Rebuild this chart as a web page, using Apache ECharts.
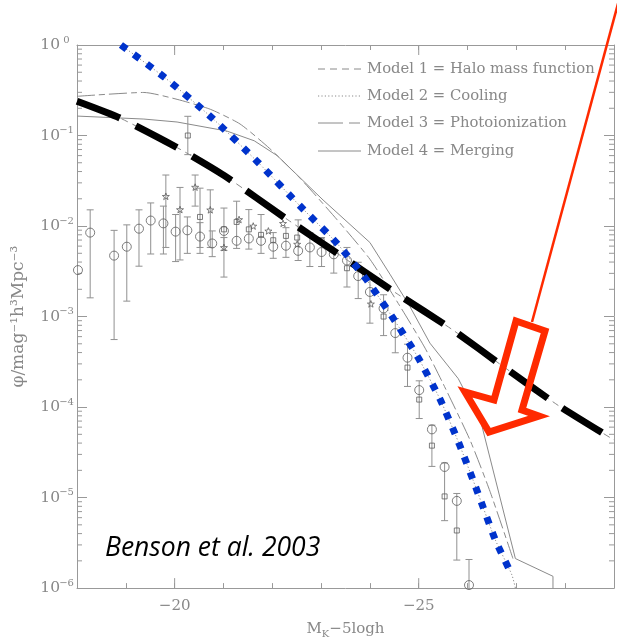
<!DOCTYPE html>
<html><head><meta charset="utf-8">
<script src="https://cdn.jsdelivr.net/npm/echarts@6/dist/echarts.min.js"></script>
<style>html,body{margin:0;padding:0;background:#fff}#c{width:617px;height:644px}</style>
</head><body><div id="c"></div>
<script>
// ---------- data ----------
// x: M_K - 5 log h ; y: phi / mag^-1 h^3 Mpc^-3
const xTickLabels = { '-20': '−20', '-25': '−25' };
const yTickExponents = ['0', '−1', '−2', '−3', '−4', '−5', '−6'];

// Model 1 = Halo mass function (highlighted by the thick black dashed line)
const model1 = [[-18.00,0.239],[-18.88,0.156],[-20.09,0.0716],[-21.01,0.0363],[-22.32,0.0117],[-23.39,0.00475],[-24.56,0.00178],[-25.68,0.000722],[-26.77,0.000271],[-27.86,0.000104],[-29.00,4.33e-5]];
// Model 2 = Cooling (highlighted by the thick blue dotted line)
const model2 = [[-18.90,1.0],[-19.80,0.436],[-20.77,0.156],[-21.71,0.0504],[-22.61,0.0158],[-23.31,0.00658],[-23.92,0.0026],[-24.48,0.00095],[-24.99,0.00035],[-25.44,0.000121],[-25.83,3.9e-5],[-26.20,1.17e-5],[-26.57,3.4e-6],[-26.91,1.39e-6],[-27.02,8e-7]];
// Model 3 = Photoionization
const model3 = [[-18.00,0.271],[-19.37,0.299],[-20.05,0.251],[-20.73,0.195],[-21.34,0.134],[-21.95,0.0716],[-22.57,0.0337],[-23.33,0.0117],[-24.00,0.0043],[-24.62,0.00129],[-25.13,0.000448],[-25.50,0.000181],[-26.05,4.33e-5],[-26.46,1.17e-5],[-26.93,2.12e-6]];
// Model 4 = Merging
const model4 = [[-18.00,0.164],[-19.37,0.152],[-20.05,0.141],[-21.07,0.112],[-21.63,0.0875],[-22.10,0.060],[-23.04,0.0194],[-24.00,0.00658],[-24.41,0.00294],[-24.82,0.00129],[-25.23,0.000508],[-25.81,0.000206],[-26.28,6.64e-5],[-26.98,2.12e-6],[-27.75,1.35e-6],[-27.75,1e-7]];
const blueOverlay = [[-18.90,1.0],[-19.80,0.436],[-20.77,0.156],[-21.71,0.0504],[-22.61,0.0158],[-23.31,0.00658],[-23.92,0.0026],[-24.48,0.00095],[-24.99,0.00035],[-25.44,0.000121],[-25.83,3.9e-5],[-26.20,1.17e-5],[-26.57,3.4e-6],[-26.91,1.39e-6]];
const blackOverlay = [[-18.00,0.239],[-18.88,0.156],[-20.09,0.0716],[-21.01,0.0363],[-22.32,0.0117],[-23.39,0.00475],[-24.56,0.00178],[-25.68,0.000722],[-26.77,0.000271],[-27.86,0.000104],[-29.00,4.33e-5]];

// observations: [x, phi, errLow, errHigh]
const circles = [
[-18.02,3.26e-3,null,null],[-18.27,8.46e-3,1.61e-3,1.51e-2],[-18.76,4.71e-3,5.57e-4,8.96e-3],[-19.02,5.91e-3,1.48e-3,1.03e-2],
[-19.27,9.35e-3,3.60e-3,1.51e-2],[-19.51,1.15e-2,4.91e-3,1.80e-2],[-19.77,1.07e-2,4.91e-3,1.66e-2],[-20.02,8.67e-3,4.05e-3,1.34e-2],
[-20.26,8.96e-3,4.99e-3,1.26e-2],[-20.52,7.65e-3,4.99e-3,1.09e-2],[-20.77,6.42e-3,4.59e-3,8.83e-3],[-21.01,8.83e-3,5.38e-3,1.58e-2],
[-21.27,6.87e-3,5.66e-3,1.88e-2],[-21.52,7.28e-3,5.56e-3,1.52e-2],[-21.77,6.87e-3,4.99e-3,1.34e-2],[-22.02,5.91e-3,4.40e-3,8.46e-3],
[-22.28,6.06e-3,4.51e-3,9.59e-3],[-22.53,5.32e-3,4.16e-3,1.17e-2],[-22.77,5.80e-3,3.57e-3,8.46e-3],[-23.01,5.16e-3,3.57e-3,7.46e-3],
[-23.26,4.87e-3,3.02e-3,6.92e-3],[-23.53,4.16e-3,2.12e-3,5.80e-3],[-23.76,2.80e-3,1.58e-3,3.98e-3],[-24.00,1.87e-3,8.45e-4,2.73e-3],
[-24.28,1.23e-3,6.16e-4,1.74e-3],[-24.52,6.57e-4,3.98e-4,9.51e-4],[-24.77,3.51e-4,1.69e-4,4.95e-4],[-25.01,1.54e-4,7.47e-5,1.95e-4],
[-25.27,5.67e-5,2.21e-5,6.31e-5],[-25.53,2.18e-5,5.56e-6,2.41e-5],[-25.78,9.19e-6,2.04e-6,1.11e-5],[-26.03,1.08e-6,1e-7,2.07e-6]
];
const squares = [
[-20.27,0.100,0.0615,0.163],[-20.52,1.26e-2,5.80e-3,2.62e-2],[-21.01,9.19e-3,null,null],[-21.27,1.11e-2,null,null],
[-21.52,9.19e-3,null,null],[-21.77,7.98e-3,null,null],[-22.02,6.97e-3,null,null],[-22.28,7.78e-3,null,null],
[-22.51,7.46e-3,null,null],[-23.01,6.87e-3,null,null],[-23.53,3.42e-3,null,null],[-24.28,1.0e-3,null,null],
[-24.77,2.73e-4,null,null],[-25.01,1.21e-4,null,null],[-25.27,3.75e-5,null,null],[-25.53,1.03e-5,null,null],[-25.78,4.33e-6,null,null]
];
const stars = [
[-19.82,2.13e-2,5.80e-3,3.66e-2],[-20.11,1.52e-2,4.22e-3,2.67e-2],[-20.42,2.69e-2,1.66e-2,3.66e-2],[-20.73,1.51e-2,5.80e-3,2.51e-2],
[-21.01,5.80e-3,2.73e-3,7.46e-3],[-21.32,1.18e-2,null,null],[-21.61,1.0e-2,null,null],[-21.92,8.83e-3,null,null],
[-22.22,1.07e-2,null,null],[-22.51,6.31e-3,null,null],[-24.02,1.38e-3,null,null]
];

const legendLabels = ['Model 1 = Halo mass function', 'Model 2 = Cooling', 'Model 3 = Photoionization', 'Model 4 = Merging'];
const citation = 'Benson et al. 2003';

// ---------- styling ----------
const GREY = '#8a8a8a', AX = '#999999', PT = '#5e5e5e', RED = '#ff2a00';
const FONT = 'DejaVu Serif';

const minorTickVals = [];
for (let e = -6; e < 0; e++) for (let k = 2; k <= 9; k++) minorTickVals.push([-18, k * Math.pow(10, e)]);

const errData = circles.concat(squares, stars).filter(d => d[2] != null).map(d => [d[0], d[2], d[3]]);
const starPath = 'path://M0,-10L2.35,-3.24L9.51,-3.09L3.8,1.24L5.88,8.09L0,4L-5.88,8.09L-3.8,1.24L-9.51,-3.09L-2.35,-3.24Z';

function renderErr(params, api) {
  const x = api.value(0), lo = api.value(1), hi = api.value(2);
  const a = api.coord([x, hi]), b = api.coord([x, lo]);
  const w = 3.5, st = { stroke: '#909090', lineWidth: 1 };
  return { type: 'group', children: [
    { type: 'line', shape: { x1: a[0], y1: a[1], x2: b[0], y2: b[1] }, style: st },
    { type: 'line', shape: { x1: a[0] - w, y1: a[1], x2: a[0] + w, y2: a[1] }, style: st },
    { type: 'line', shape: { x1: b[0] - w, y1: b[1], x2: b[0] + w, y2: b[1] }, style: st }
  ]};
}
function renderMinor(params, api) {
  const v = api.value(1);
  const l = api.coord([-18, v]), r = api.coord([-29, v]);
  const st = { stroke: AX, lineWidth: 1 };
  return { type: 'group', children: [
    { type: 'line', shape: { x1: l[0], y1: l[1], x2: l[0] + 5, y2: l[1] }, style: st },
    { type: 'line', shape: { x1: r[0], y1: r[1], x2: r[0] - 5, y2: r[1] }, style: st }
  ]};
}
function renderMajorX(params, api) {
  const x = api.value(0);
  const b = api.coord([x, 1e-6]), t = api.coord([x, 1]);
  const st = { stroke: AX, lineWidth: 1 };
  return { type: 'group', children: [
    { type: 'line', shape: { x1: b[0], y1: b[1], x2: b[0], y2: b[1] - 10 }, style: st },
    { type: 'line', shape: { x1: t[0], y1: t[1], x2: t[0], y2: t[1] + 10 }, style: st }
  ]};
}

const axisCommon = {
  axisLine: { show: true, onZero: false, lineStyle: { color: AX, width: 1 } },
  splitLine: { show: false }
};

const legendItems = [];
const legendY = [69, 96, 123, 151];
const legendDash = [[7, 5], [1.2, 2.2], [25, 6, 11, 60], null];
legendLabels.forEach((t, i) => {
  legendItems.push({ type: 'line', z: 50, shape: { x1: 318, y1: legendY[i], x2: 361, y2: legendY[i] },
    style: { stroke: GREY, lineWidth: 1, lineDash: legendDash[i] } });
  legendItems.push({ type: 'text', z: 50, x: 367, y: legendY[i],
    style: { text: t, fill: '#888', fontFamily: FONT, fontSize: 14.8, verticalAlign: 'middle', align: 'left' } });
});

const chart = echarts.init(document.getElementById('c'));
chart.setOption({
  animation: false,
  backgroundColor: '#fff',
  grid: { left: 77, top: 45, width: 537, height: 550, containLabel: false },
  xAxis: [
    Object.assign({ type: 'value', inverse: true, min: -29, max: -18, interval: 1, position: 'bottom',
      axisTick: { show: true, inside: true, length: 5, lineStyle: { color: AX } },
      axisLabel: { formatter: v => xTickLabels[String(Math.round(v))] || '', color: '#888', fontFamily: FONT, fontSize: 15, margin: 11 },
      name: 'M{k|K}−5logh', nameLocation: 'middle', nameGap: 29,
      nameTextStyle: { color: '#888', fontFamily: FONT, fontSize: 15, lineHeight: 20,
        rich: { k: { fontSize: 10, lineHeight: 9, verticalAlign: 'bottom', fontFamily: FONT, color: '#888' } } }
    }, axisCommon),
    Object.assign({ type: 'value', inverse: true, min: -29, max: -18, interval: 1, position: 'top',
      axisTick: { show: true, inside: true, length: 5, lineStyle: { color: AX } },
      axisLabel: { show: false } }, axisCommon)
  ],
  yAxis: [
    Object.assign({ type: 'log', logBase: 10, min: 1e-6, max: 1, splitNumber: 6, position: 'left',
      axisTick: { show: true, inside: true, length: 10, lineStyle: { color: AX } },
      axisLabel: {
        formatter: v => '{b|10}{s|' + yTickExponents[-Math.round(Math.log10(v))] + '}',
        margin: 4,
        rich: {
          b: { fontSize: 15.5, fontFamily: FONT, color: '#888', lineHeight: 20 },
          s: { fontSize: 10, fontFamily: FONT, color: '#888', lineHeight: 12, verticalAlign: 'top', width: 13, align: 'left' }
        }
      },
      name: 'φ/mag⁻¹h³Mpc⁻³', nameLocation: 'middle', nameGap: 50,
      nameTextStyle: { color: '#888', fontFamily: FONT, fontSize: 17 }
    }, axisCommon),
    Object.assign({ type: 'log', logBase: 10, min: 1e-6, max: 1, splitNumber: 6, position: 'right',
      axisTick: { show: true, inside: true, length: 10, lineStyle: { color: AX } },
      axisLabel: { show: false } }, axisCommon)
  ],
  series: [
    { type: 'custom', renderItem: renderMinor, data: minorTickVals, clip: false, silent: true, z: 1 },
    { type: 'custom', renderItem: renderMajorX, data: [[-20, 1e-6], [-25, 1e-6]], clip: false, silent: true, z: 1 },
    { type: 'line', data: model1, symbol: 'none', smooth: 0.2, lineStyle: { color: GREY, width: 1, type: [7, 5] }, z: 2, silent: true },
    { type: 'line', data: model2, symbol: 'none', smooth: 0.2, lineStyle: { color: GREY, width: 1, type: [1.2, 2.2] }, z: 2, silent: true },
    { type: 'line', data: model3, symbol: 'none', smooth: 0.2, lineStyle: { color: GREY, width: 1, type: [18, 4, 6, 4] }, z: 2, silent: true },
    { type: 'line', data: model4, symbol: 'none', lineStyle: { color: GREY, width: 1 }, z: 2, silent: true },
    { type: 'custom', renderItem: renderErr, data: errData, clip: true, silent: true, z: 3 },
    { type: 'scatter', data: circles.map(d => [d[0], d[1]]), symbol: 'circle', symbolSize: 9,
      itemStyle: { color: 'rgba(255,255,255,0)', borderColor: PT, borderWidth: 1 }, z: 4, silent: true },
    { type: 'scatter', data: squares.map(d => [d[0], d[1]]), symbol: 'rect', symbolSize: 5,
      itemStyle: { color: 'rgba(255,255,255,0)', borderColor: PT, borderWidth: 1 }, z: 4, silent: true },
    { type: 'scatter', data: stars.map(d => [d[0], d[1]]), symbol: starPath, symbolSize: 7, symbolKeepAspect: true,
      itemStyle: { color: 'rgba(255,255,255,0)', borderColor: PT, borderWidth: 1 }, z: 4, silent: true },
    { type: 'line', data: blackOverlay, symbol: 'none', smooth: 0.2, lineStyle: { color: '#000', width: 7, type: [46, 18], cap: 'butt' }, z: 5, silent: true },
    { type: 'line', data: blueOverlay, symbol: 'none', smooth: 0.2, lineStyle: { color: '#0033cc', width: 7, type: [7, 9], cap: 'butt' }, z: 6, silent: true }
  ],
  graphic: legendItems.concat([
    { type: 'text', z: 60, x: 105, y: 548,
      style: { text: citation, fill: '#000', fontFamily: 'Open Sans', fontStyle: 'italic', fontSize: 26.5, verticalAlign: 'middle', align: 'left' } },
    { type: 'line', z: 60, shape: { x1: 619, y1: 0, x2: 532, y2: 322 }, style: { stroke: RED, lineWidth: 2.5 } },
    { type: 'polygon', z: 60,
      shape: { points: [[516, 321], [545, 331], [522, 410], [539, 416], [489, 432], [465, 392], [494, 400]] },
      style: { fill: 'none', stroke: RED, lineWidth: 7, lineJoin: 'miter' } }
  ])
});
</script></body></html>
